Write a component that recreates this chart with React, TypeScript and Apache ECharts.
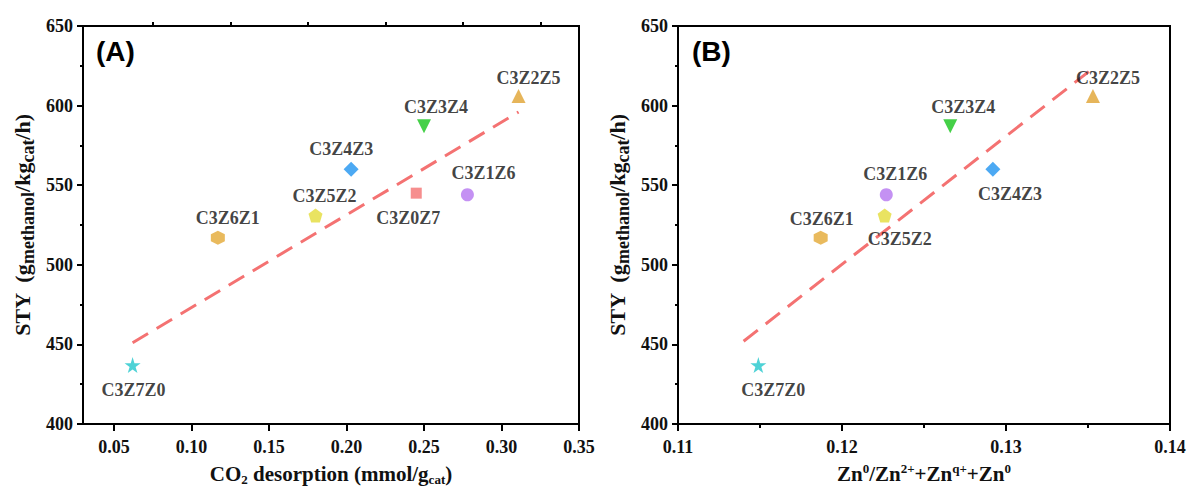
import React, { useEffect, useRef } from "react";
import * as echarts from "echarts";

// ---- data ----
const samplesA = ["C3Z7Z0", "C3Z6Z1", "C3Z5Z2", "C3Z4Z3", "C3Z0Z7", "C3Z3Z4", "C3Z1Z6", "C3Z2Z5"];
const co2Desorption = [0.062, 0.117, 0.18, 0.203, 0.245, 0.25, 0.278, 0.311];
const styA = [437, 517, 531, 560, 545, 587, 544, 606];
const fitA = [
  [0.062, 451],
  [0.311, 596],
];

const samplesB = ["C3Z7Z0", "C3Z6Z1", "C3Z5Z2", "C3Z1Z6", "C3Z3Z4", "C3Z4Z3", "C3Z2Z5"];
const znRatio = [0.1149, 0.1187, 0.1226, 0.1227, 0.1266, 0.1292, 0.1353];
const styB = [437, 517, 531, 544, 587, 560, 606];
const fitB = [
  [0.114, 452],
  [0.1355, 625],
];

const xTicksA = [0.05, 0.1, 0.15, 0.2, 0.25, 0.3, 0.35];
const xMinorTicksA = [0.075, 0.125, 0.175, 0.225, 0.275, 0.325];

// ---- styles ----
const STAR = "path://M50,0 L61,35 L98,35 L68,57 L79,91 L50,70 L21,91 L32,57 L2,35 L39,35 Z";
const HEX = "path://M50,0 L93,25 L93,75 L50,100 L7,75 L7,25 Z";
const PENTA = "path://M50,0 L98,36 L80,95 L20,95 L2,36 Z";

const markerStyle: Record<string, { symbol: string; color: string; rotate?: number; size: number }> = {
  C3Z7Z0: { symbol: STAR, color: "#22c7cc", size: 16 },
  C3Z6Z1: { symbol: HEX, color: "#e3a934", size: 14 },
  C3Z5Z2: { symbol: PENTA, color: "#e3dc3a", size: 14 },
  C3Z4Z3: { symbol: "diamond", color: "#1f93f0", size: 15 },
  C3Z0Z7: { symbol: "rect", color: "#f47272", size: 11 },
  C3Z3Z4: { symbol: "triangle", color: "#17c41a", size: 14, rotate: 180 },
  C3Z1Z6: { symbol: "circle", color: "#b576f0", size: 13 },
  C3Z2Z5: { symbol: "triangle", color: "#e0a231", size: 14 },
};

const labelPosA: Record<string, { pos: string; dx: number; dy: number }> = {
  C3Z7Z0: { pos: "bottom", dx: 1, dy: 2 },
  C3Z6Z1: { pos: "top", dx: 10, dy: 2 },
  C3Z5Z2: { pos: "top", dx: 9, dy: 3 },
  C3Z4Z3: { pos: "top", dx: -10, dy: 2 },
  C3Z0Z7: { pos: "bottom", dx: -8, dy: 4 },
  C3Z3Z4: { pos: "top", dx: 12, dy: 3 },
  C3Z1Z6: { pos: "top", dx: 16, dy: 0 },
  C3Z2Z5: { pos: "top", dx: 10, dy: 4 },
};
const labelPosB: Record<string, { pos: string; dx: number; dy: number }> = {
  C3Z7Z0: { pos: "bottom", dx: 15, dy: 2 },
  C3Z6Z1: { pos: "top", dx: 1, dy: 3 },
  C3Z5Z2: { pos: "bottom", dx: 15, dy: 2 },
  C3Z1Z6: { pos: "top", dx: 9, dy: 1 },
  C3Z3Z4: { pos: "top", dx: 13, dy: 3 },
  C3Z4Z3: { pos: "bottom", dx: 17, dy: 2 },
  C3Z2Z5: { pos: "top", dx: 15, dy: 4 },
};

const SERIF = "Liberation Serif";
const SANS = "Liberation Sans";

const points = (names: string[], xs: number[], ys: number[], lp: typeof labelPosA) =>
  names.map((n, i) => {
    const m = markerStyle[n];
    const l = lp[n];
    return {
      name: n,
      value: [xs[i], ys[i]],
      symbol: m.symbol,
      symbolSize: m.size,
      symbolRotate: m.rotate || 0,
      itemStyle: { color: m.color },
      label: { position: l.pos, offset: [l.dx, l.dy] },
    };
  });

const richX = {
  m: { fontFamily: SERIF, fontWeight: "bold", fontSize: 21, color: "#111", lineHeight: 24, verticalAlign: "middle" },
  s: { fontFamily: SERIF, fontWeight: "bold", fontSize: 13, color: "#111", lineHeight: 24, verticalAlign: "bottom", padding: [8, 0, 0, 0] },
  p: { fontFamily: SERIF, fontWeight: "bold", fontSize: 13, color: "#111", lineHeight: 24, verticalAlign: "top", padding: [0, 0, 8, 0] },
};
const richY = {
  m: { fontFamily: SERIF, fontWeight: "bold", fontSize: 22, color: "#111", lineHeight: 30, verticalAlign: "middle" },
  s: { fontFamily: SERIF, fontWeight: "bold", fontSize: 18, color: "#111", lineHeight: 30, verticalAlign: "bottom", padding: [12, 0, 0, 0] },
};

const axisLabelStyle = { fontFamily: SERIF, fontWeight: "bold", fontSize: 18, color: "#111" };

const yAxisFor = (gridIndex: number) => ({
  type: "value",
  gridIndex,
  min: 400,
  max: 650,
  interval: 50,
  name: "{m|STY  (g}{s|methanol}{m|/kg}{s|cat}{m|/h)}",
  nameLocation: "middle",
  nameGap: 46,
  nameTextStyle: { rich: richY },
  axisLine: { show: true, lineStyle: { color: "#000", width: 2 } },
  axisTick: { show: true, length: 6, lineStyle: { color: "#000", width: 2 } },
  minorTick: { show: true, splitNumber: 2, length: 3, lineStyle: { color: "#000", width: 2 } },
  axisLabel: { ...axisLabelStyle, margin: 10 },
  splitLine: { show: false },
});

export default function App() {
  const ref = useRef<HTMLDivElement>(null);
  useEffect(() => {
    if (!ref.current) return;
    const chart = echarts.init(ref.current, null, { renderer: "svg" });
    const scatterLabel = {
      show: true,
      formatter: "{b}",
      fontFamily: SERIF,
      fontWeight: "bold",
      fontSize: 18,
      color: "#111",
      distance: 6,
    };
    chart.setOption({
      animation: false,
      backgroundColor: "#fff",
      textStyle: { fontFamily: SERIF },
      grid: [
        { left: 83, top: 26, width: 496, height: 398, show: true, borderColor: "#000", borderWidth: 2, outerBoundsMode: "none", containLabel: false },
        { left: 678, top: 26, width: 492, height: 398, show: true, borderColor: "#000", borderWidth: 2, outerBoundsMode: "none", containLabel: false },
      ],
      xAxis: [
        {
          type: "value",
          gridIndex: 0,
          min: 0.03,
          max: 0.35,
          name: "{m|CO}{s|2}{m| desorption (mmol/g}{s|cat}{m|)}",
          nameLocation: "middle",
          nameGap: 38,
          nameTextStyle: { rich: richX },
          axisLine: { show: true, lineStyle: { color: "#000", width: 2 } },
          axisTick: { show: true, length: 7, customValues: xTicksA, lineStyle: { color: "#000", width: 2 } },
          axisLabel: { ...axisLabelStyle, margin: 14, customValues: xTicksA, formatter: (v: number) => v.toFixed(2) },
          splitLine: { show: false },
        },
        {
          type: "value",
          gridIndex: 0,
          min: 0.03,
          max: 0.35,
          axisLine: { show: false },
          axisTick: { show: true, length: 4, customValues: xMinorTicksA, lineStyle: { color: "#000", width: 2 } },
          axisLabel: { show: false },
          splitLine: { show: false },
        },
        {
          type: "value",
          gridIndex: 1,
          min: 0.11,
          max: 0.14,
          interval: 0.01,
          name: "{m|Zn}{p|0}{m|/Zn}{p|2+}{m|+Zn}{p|q+}{m|+Zn}{p|0}",
          nameLocation: "middle",
          nameGap: 38,
          nameTextStyle: { rich: richX },
          axisLine: { show: true, lineStyle: { color: "#000", width: 2 } },
          axisTick: { show: true, length: 7, lineStyle: { color: "#000", width: 2 } },
          minorTick: { show: true, splitNumber: 2, length: 4, lineStyle: { color: "#000", width: 2 } },
          axisLabel: { ...axisLabelStyle, margin: 14, formatter: (v: number) => v.toFixed(2) },
          splitLine: { show: false },
        },
      ],
      yAxis: [yAxisFor(0), yAxisFor(1)],
      series: [
        {
          type: "line",
          xAxisIndex: 0,
          yAxisIndex: 0,
          data: fitA,
          symbol: "none",
          lineStyle: { color: "#f47272", width: 3, type: [18, 10] },
          z: 1,
        },
        {
          type: "scatter",
          xAxisIndex: 0,
          yAxisIndex: 0,
          data: points(samplesA, co2Desorption, styA, labelPosA),
          label: scatterLabel,
          z: 3,
        },
        {
          type: "line",
          xAxisIndex: 2,
          yAxisIndex: 1,
          data: fitB,
          symbol: "none",
          lineStyle: { color: "#f47272", width: 3, type: [18, 10] },
          z: 1,
        },
        {
          type: "scatter",
          xAxisIndex: 2,
          yAxisIndex: 1,
          data: points(samplesB, znRatio, styB, labelPosB),
          label: scatterLabel,
          z: 3,
        },
      ],
      graphic: [
        {
          type: "text",
          left: 96,
          top: 37,
          style: { text: "(A)", fontFamily: SANS, fontWeight: "bold", fontSize: 28, fill: "#000" },
        },
        {
          type: "text",
          left: 692,
          top: 37,
          style: { text: "(B)", fontFamily: SANS, fontWeight: "bold", fontSize: 28, fill: "#000" },
        },
      ],
    });
    return () => chart.dispose();
  }, []);
  return (
    <div
      ref={ref}
      style={{ position: "fixed", left: 0, top: 0, width: 1189, height: 488, background: "#fff" }}
    />
  );
}
